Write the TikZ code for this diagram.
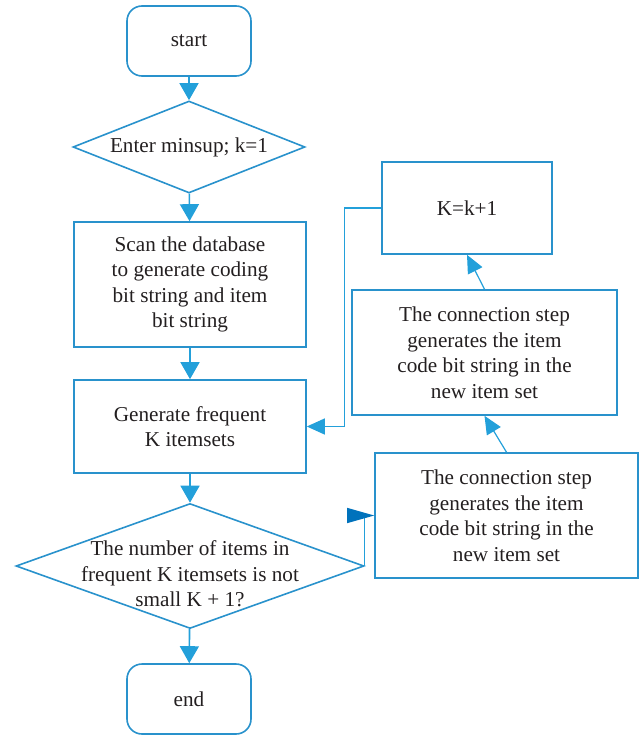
\documentclass[tikz,border=0pt]{standalone}
\usepackage{fontspec}
\setmainfont{Liberation Serif}
\usetikzlibrary{arrows.meta,shapes.geometric}
\definecolor{boxblue}{RGB}{41,146,204}
\definecolor{arrowblue}{RGB}{35,160,218}
\definecolor{darkblue}{RGB}{0,114,188}
\definecolor{ink}{RGB}{35,31,32}
\tikzstyle{block}=[rectangle, draw=boxblue, line width=1.6pt, inner sep=0pt, align=center, text=ink]
\tikzstyle{term}=[block, rounded corners=15pt, minimum width=124pt, minimum height=70pt]
\tikzstyle{decision}=[diamond, draw=boxblue, line width=1.6pt, inner sep=0pt]
\tikzstyle{txt}=[align=center, text=ink, inner sep=0pt]
\tikzstyle{flow}=[draw=arrowblue, line width=1.6pt, -{Triangle[length=17pt, width=19pt]}]
\tikzstyle{back}=[draw=arrowblue, line width=1.2pt, -{Triangle[length=18pt, width=16pt]}]

\begin{document}
\begin{tikzpicture}[x=1pt, y=-1pt, font=\fontsize{21.2}{25.5}\selectfont]
    \useasboundingbox (0,0) rectangle (641,735);
    % main column
    \node[term] (start) at (189, 41) {start};
    \node[decision, minimum width=232pt, minimum height=92pt] (enter) at (189, 147) {};
    \node[txt] (entertext) at (enter) {Enter minsup; k=1};
    \node[block, minimum width=232pt, minimum height=125pt] (scan) at (190, 284.5)
        {Scan the database\\to generate coding\\bit string and item\\bit string};
    \node[block, minimum width=232pt, minimum height=93pt] (gen) at (190, 426.5)
        {Generate frequent\\K itemsets};
    \node[decision, minimum width=348pt, minimum height=125pt] (test) at (190, 566) {};
    \node[txt] (testtext) at (190, 574) {The number of items in\\frequent K itemsets is not\\small K + 1?};
    \node[term] (end) at (189, 699) {end};
    % loop on the right
    \node[block, minimum width=170pt, minimum height=92pt] (inc) at (467, 208) {K=k+1};
    \node[block, minimum width=265pt, minimum height=125pt] (join1) at (484.5, 352.5)
        {The connection step\\generates the item\\code bit string in the\\new item set};
    \node[block, minimum width=263pt, minimum height=125pt] (join2) at (506.5, 515.5)
        {The connection step\\generates the item\\code bit string in the\\new item set};

    \draw[flow] (start)--(enter);
    \draw[flow] (enter)--(scan);
    \draw[flow] (scan)--(gen);
    \draw[flow] (gen)--(test);
    \draw[flow] (test)--(end);
    \draw[back, -{Triangle[length=27pt, width=15pt, color=darkblue]}] (test.east) |- (join2.west);
    \draw[back] (join2.north)--(join1.south);
    \draw[back] (join1.north)--(inc.south);
    \draw[back] (inc.west)--++(-37,0) |- (gen.east);
\end{tikzpicture}
\end{document}
